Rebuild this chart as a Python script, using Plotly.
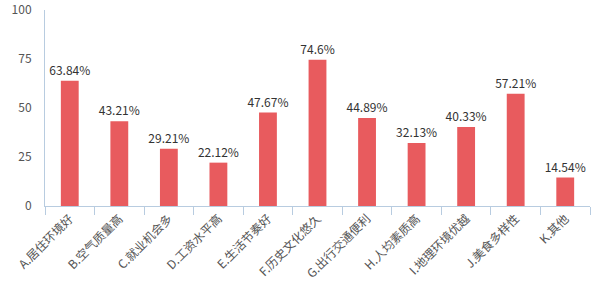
import plotly.graph_objects as go

categories = ["A.居住环境好", "B.空气质量高", "C.就业机会多", "D.工资水平高", "E.生活节奏好",
              "F.历史文化悠久", "G.出行交通便利", "H.人均素质高", "I.地理环境优越", "J.美食多样性", "K.其他"]
values = [63.84, 43.21, 29.21, 22.12, 47.67, 74.6, 44.89, 32.13, 40.33, 57.21, 14.54]
labels = ["63.84%", "43.21%", "29.21%", "22.12%", "47.67%", "74.6%", "44.89%", "32.13%", "40.33%", "57.21%", "14.54%"]
y_ticks = [0, 25, 50, 75, 100]

fig = go.Figure(go.Bar(
    x=categories, y=values, text=labels, textposition="outside",
    textfont=dict(size=12, color="#333333"), constraintext="none",
    marker=dict(color="#E85B5E", line=dict(width=0)),
    width=0.36, cliponaxis=False,
))
fig.update_layout(
    width=600, height=300,
    margin=dict(l=45, r=10, t=10, b=94, autoexpand=False),
    paper_bgcolor="white", plot_bgcolor="white",
    font=dict(family="Noto Sans CJK SC, Noto Sans, sans-serif", size=12, color="#555555"),
    showlegend=False,
    xaxis=dict(showline=True, linecolor="#B8CCE0", linewidth=1, ticks="outside",
               tickson="boundaries", ticklen=8, tickcolor="#B8CCE0", tickangle=-45,
               showgrid=False, automargin=False, tickfont=dict(size=12, color="#555555")),
    yaxis=dict(range=[0, 100], tickvals=y_ticks, showline=True, linecolor="#B8CCE0",
               linewidth=1, showgrid=False, zeroline=False, ticks="", ticklabelstandoff=10,
               automargin=False, tickfont=dict(size=12, color="#555555")),
)
fig.write_html("out.html")
